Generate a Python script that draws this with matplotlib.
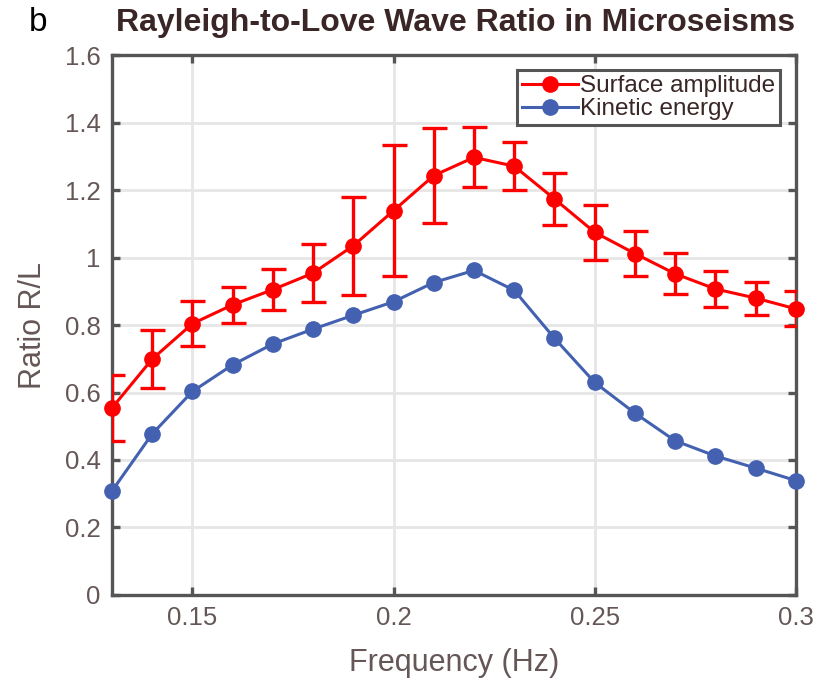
import matplotlib
matplotlib.use("Agg")
import matplotlib.pyplot as plt

freq = [0.13, 0.14, 0.15, 0.16, 0.17, 0.18, 0.19, 0.20, 0.21, 0.22,
        0.23, 0.24, 0.25, 0.26, 0.27, 0.28, 0.29, 0.30]
surface_amp = [0.554, 0.699, 0.804, 0.860, 0.905, 0.954, 1.035, 1.139, 1.243, 1.297,
               1.271, 1.174, 1.075, 1.012, 0.952, 0.907, 0.880, 0.848]
surface_err = [0.098, 0.085, 0.067, 0.053, 0.060, 0.085, 0.145, 0.195, 0.141, 0.089,
               0.072, 0.076, 0.082, 0.067, 0.061, 0.053, 0.049, 0.052]
kinetic = [0.308, 0.477, 0.603, 0.682, 0.744, 0.788, 0.829, 0.869, 0.926, 0.962,
           0.903, 0.761, 0.630, 0.539, 0.457, 0.412, 0.376, 0.339]
xticks = [0.15, 0.2, 0.25, 0.3]
xtick_labels = ["0.15", "0.2", "0.25", "0.3"]
yticks = [0, 0.2, 0.4, 0.6, 0.8, 1.0, 1.2, 1.4, 1.6]
ytick_labels = ["0", "0.2", "0.4", "0.6", "0.8", "1", "1.2", "1.4", "1.6"]

plt.rcParams['font.family'] = ['Liberation Sans', 'DejaVu Sans']

RED = '#ff0000'
BLUE = '#4361b0'
TXT = '#665757'
SPINE = '#555555'

fig = plt.figure(figsize=(8.17, 6.81), dpi=100)
ax = fig.add_axes([0.137, 0.1264, 0.837, 0.7926])

ax.errorbar(freq, surface_amp, yerr=surface_err, fmt='none', ecolor=RED,
            elinewidth=2.4, capsize=9, capthick=2.4, zorder=3)
ax.plot(freq, surface_amp, '-o', color=RED, lw=2.2, ms=11,
        label='Surface amplitude', clip_on=False, zorder=4)
ax.plot(freq, kinetic, '-o', color=BLUE, lw=2.2, ms=11,
        label='Kinetic energy', clip_on=False, zorder=4)

ax.set_xlim(0.13, 0.3)
ax.set_ylim(0, 1.6)
ax.set_xticks(xticks)
ax.set_xticklabels(xtick_labels)
ax.set_yticks(yticks)
ax.set_yticklabels(ytick_labels)
ax.grid(True, color='#e6e6e6', lw=2)
ax.set_axisbelow(True)
for s in ax.spines.values():
    s.set_color(SPINE)
    s.set_linewidth(2.4)
ax.tick_params(direction='in', length=6, width=2.4, color=SPINE,
               labelsize=18.5, labelcolor=TXT, top=True, right=True, pad=8)

ax.set_xlabel('Frequency (Hz)', fontsize=22, color=TXT, labelpad=13)
ax.set_ylabel('Ratio R/L', fontsize=22, color=TXT, labelpad=12)

fig.text(0.557, 0.966, 'Rayleigh-to-Love Wave Ratio in Microseisms',
         fontsize=23, fontweight='bold', color='#3a2626', ha='center', va='center')
fig.text(0.035, 0.967, 'b', fontsize=24, color='black', ha='left', va='center')

leg = ax.legend(loc='upper right', bbox_to_anchor=(0.977, 0.972), fontsize=17.5,
                frameon=True, fancybox=False, handlelength=2.3, handletextpad=0.1,
                borderpad=0.2, labelspacing=0.05, borderaxespad=0)
leg.get_frame().set_edgecolor(SPINE)
leg.get_frame().set_linewidth(2.2)
leg.get_frame().set_alpha(1)
for t in leg.get_texts():
    t.set_color('#3a2626')

fig.savefig('out.png', dpi=100)
